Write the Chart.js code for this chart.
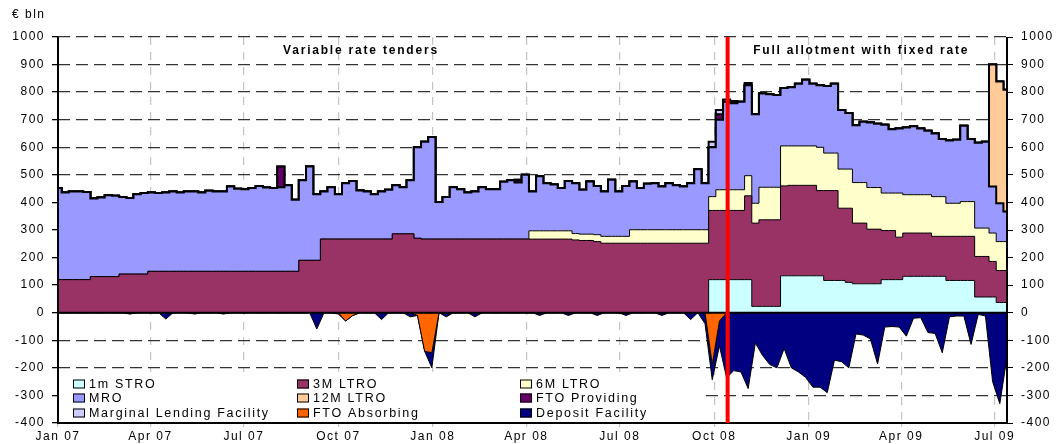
<!DOCTYPE html>
<html>
<head>
<meta charset="utf-8">
<title>Eurosystem liquidity operations</title>
<script src="https://cdn.jsdelivr.net/npm/chart.js@4.4.0/dist/chart.umd.min.js"></script>
<style>
  html, body { margin: 0; padding: 0; background: #fff; }
  canvas { display: block; }
</style>
</head>
<body>
<canvas id="chart" width="1057" height="444"></canvas>
<script>
// Days since 1 Jan 2007 (weekly grid)
const days = [0,7,14,21,28,35,42,49,56,63,
  70,77,84,91,98,105,112,119,126,133,
  140,147,154,161,168,175,182,189,196,203,
  210,217,224,231,238,245,252,259,266,273,
  280,287,294,301,308,315,322,329,336,343,
  350,357,364,371,378,385,392,399,406,413,
  420,427,434,441,448,455,462,469,476,483,
  490,497,504,511,518,525,532,539,546,553,
  560,567,574,581,588,595,602,609,616,623,
  630,637,644,651,658,665,672,679,686,693,
  700,707,714,721,728,735,742,749,756,763,
  770,777,784,791,798,805,812,819,826,833,
  840,847,854,861,868,875,882,889,896,903,
  910,917,924];

const tickDays = [0, 90, 181, 273, 365, 456, 547, 639, 731, 821, 912];
const tickLabels = ['Jan 07', 'Apr 07', 'Jul 07', 'Oct 07', 'Jan 08', 'Apr 08', 'Jul 08', 'Oct 08', 'Jan 09', 'Apr 09', 'Jul 09'];
const switchDay = 652; // 15 Oct 2008

// € bln
const stro = [0,0,0,0,0,0,0,0,0,0,
  0,0,0,0,0,0,0,0,0,0,
  0,0,0,0,0,0,0,0,0,0,
  0,0,0,0,0,0,0,0,0,0,
  0,0,0,0,0,0,0,0,0,0,
  0,0,0,0,0,0,0,0,0,0,
  0,0,0,0,0,0,0,0,0,0,
  0,0,0,0,0,0,0,0,0,0,
  0,0,0,0,0,0,0,0,0,0,
  0,120,120,120,120,120,120,23,23,23,
  23,134,134,134,134,134,134,117,117,117,
  110,105,105,105,105,120,120,120,132,132,
  132,132,132,132,117,117,117,117,57,57,
  57,37,37];

const ltro3m = [120,120,120,120,120,131,131,131,131,140,
  140,140,140,150,150,150,150,150,150,150,
  150,150,150,150,150,150,150,150,150,150,
  150,150,150,150,190,190,190,267,267,267,
  267,267,267,267,267,267,267,286,286,286,
  270,267,267,267,267,267,267,267,267,267,
  267,267,267,267,267,267,267,267,267,267,
  267,267,264,262,262,258,252,252,252,252,
  252,252,252,252,252,252,252,252,252,252,
  252,251,251,251,251,251,304,302,314,314,
  314,326,328,328,328,328,309,326,326,262,
  269,220,220,198,198,178,178,154,157,157,
  157,157,145,145,160,160,160,160,147,147,
  129,116,116];

const ltro6m = [0,0,0,0,0,0,0,0,0,0,
  0,0,0,0,0,0,0,0,0,0,
  0,0,0,0,0,0,0,0,0,0,
  0,0,0,0,0,0,0,0,0,0,
  0,0,0,0,0,0,0,0,0,0,
  0,0,0,0,0,0,0,0,0,0,
  0,0,0,0,0,0,30,30,30,30,
  30,30,23,23,23,25,25,25,25,25,
  49,49,49,49,49,49,49,49,49,49,
  49,50,75,75,75,75,73,72,118,118,
  118,145,143,143,143,143,157,136,136,142,
  142,147,147,151,151,136,136,160,139,139,
  139,139,144,144,120,120,126,126,103,103,
  103,105,105];

const mro = [332,316,320,320,318,283,287,295,293,280,
  276,290,294,286,284,286,290,286,290,290,
  286,292,290,290,308,300,298,302,310,304,
  302,305,312,260,290,340,240,173,188,163,
  203,211,176,173,163,173,179,176,169,194,
  330,353,370,135,153,188,181,169,173,188,
  181,181,208,213,205,233,143,198,173,168,
  155,181,183,161,191,177,163,205,163,183,
  175,151,167,169,157,169,161,157,169,219,
  169,179,254,319,314,319,328,323,340,337,
  335,210,213,225,240,225,225,243,251,214,
  203,208,221,236,231,248,231,234,244,248,
  240,232,229,209,228,230,275,227,309,313,
  169,139,109];

const ltro12m = [0,0,0,0,0,0,0,0,0,0,
  0,0,0,0,0,0,0,0,0,0,
  0,0,0,0,0,0,0,0,0,0,
  0,0,0,0,0,0,0,0,0,0,
  0,0,0,0,0,0,0,0,0,0,
  0,0,0,0,0,0,0,0,0,0,
  0,0,0,0,0,0,0,0,0,0,
  0,0,0,0,0,0,0,0,0,0,
  0,0,0,0,0,0,0,0,0,0,
  0,0,0,0,0,0,0,0,0,0,
  0,0,0,0,0,0,0,0,0,0,
  0,0,0,0,0,0,0,0,0,0,
  0,0,0,0,0,0,0,0,0,0,
  442,442,442];

const ftoProviding = [0,0,0,0,0,0,0,0,0,0,
  0,0,0,0,0,0,0,0,0,0,
  0,0,0,0,0,0,0,0,0,0,
  0,75,0,0,0,0,0,0,0,0,
  0,0,0,0,0,0,0,0,0,0,
  0,0,0,0,0,0,0,0,0,0,
  0,0,0,0,10,0,0,0,0,0,
  0,0,0,0,0,0,0,0,0,0,
  0,0,0,0,0,0,0,0,0,0,
  0,0,20,0,0,0,0,0,0,0,
  0,0,0,0,0,0,0,0,0,0,
  0,0,0,0,0,0,0,0,0,0,
  0,0,0,0,0,0,0,0,0,0,
  0,0,0];

const marginalLending = [0,0,0,0,0,0,0,0,0,0,
  0,0,0,0,0,0,0,0,0,0,
  0,0,0,0,0,0,0,0,0,0,
  0,0,0,0,0,0,0,0,0,0,
  0,0,0,0,0,0,0,0,0,0,
  0,0,0,0,0,0,0,0,0,0,
  0,0,0,0,0,0,0,0,0,0,
  0,0,0,0,0,0,0,0,0,0,
  0,0,0,0,0,0,0,0,0,0,
  0,20,15,8,8,0,8,0,0,0,
  0,0,0,0,0,0,0,0,0,0,
  0,0,0,0,0,0,0,0,0,0,
  0,0,0,0,0,0,0,0,0,0,
  0,0,0];

const ftoAbsorbing = [0,0,0,0,0,0,0,0,0,0,
  0,0,0,0,0,0,0,0,0,0,
  0,0,0,0,0,0,0,0,0,0,
  0,0,0,0,0,0,0,0,0,0,
  -30,-10,0,0,0,0,0,0,0,0,
  -10,-140,-145,0,0,0,0,0,0,0,
  0,0,0,0,0,0,0,0,0,0,
  0,0,0,0,0,0,0,0,0,0,
  0,0,0,0,0,0,0,0,0,0,
  0,-188,-30,0,0,0,0,0,0,0,
  0,0,0,0,0,0,0,0,0,0,
  0,0,0,0,0,0,0,0,0,0,
  0,0,0,0,0,0,0,0,0,0,
  0,0,0];

const depositFacility = [0,0,0,0,0,0,0,0,0,0,
  -5,0,0,0,0,-23,0,0,0,-5,
  0,0,0,-5,0,0,0,0,0,0,
  0,0,0,0,0,0,-59,0,0,-5,
  0,0,0,0,0,-25,0,0,0,-15,
  0,0,-55,0,-15,0,0,0,-15,0,
  0,0,0,0,0,0,0,-10,0,0,
  0,-10,0,0,0,-10,0,0,0,-10,
  0,0,0,0,-10,0,0,0,-25,0,
  -40,-55,-90,-236,-210,-215,-275,-110,-155,-188,
  -200,-130,-200,-215,-235,-270,-270,-290,-172,-178,
  -200,-77,-81,-95,-186,-52,-50,-52,-85,-20,
  -18,-72,-75,-145,-15,-12,-12,-115,-6,-12,
  -250,-330,-160];

const FONT = "'Liberation Sans', Arial, sans-serif";
Chart.defaults.font.family = FONT;
Chart.defaults.color = '#000';

// operations settle weekly, so the supply side is drawn as steps;
// the absorbing side is a daily series and stays a plain line
function area(label, values, color, stack, fill, width, stepped) {
  return {
    label: label,
    data: values.map((v, i) => ({ x: days[i], y: v })),
    backgroundColor: color,
    borderColor: '#000',
    borderWidth: width,
    fill: fill,
    stack: stack,
    stepped: stepped,
    tension: 0,
    pointRadius: 0
  };
}

const datasets = [
  area('1m STRO', stro, '#ccffff', 'pos', 'origin', 1, 'middle'),
  area('3M LTRO', ltro3m, '#993366', 'pos', '-1', 1, 'middle'),
  area('6M LTRO', ltro6m, '#ffffcc', 'pos', '-1', 1, 'middle'),
  area('MRO', mro, '#9999ff', 'pos', '-1', 2, 'middle'),
  area('12M LTRO', ltro12m, '#ffcc99', 'pos', '-1', 2, 'middle'),
  area('FTO Providing', ftoProviding, '#660066', 'pos', '-1', 2, 'middle'),
  area('Marginal Lending Facility', marginalLending, '#ccccff', 'pos', '-1', 2, 'middle'),
  area('FTO Absorbing', ftoAbsorbing, '#ff6600', 'neg', 'origin', 1, false),
  area('Deposit Facility', depositFacility, '#000080', 'neg', '-1', 1, false)
];

// legend order, three columns
const legendOrder = ['1m STRO', '3M LTRO', '6M LTRO',
  'MRO', '12M LTRO', 'FTO Providing',
  'Marginal Lending Facility', 'FTO Absorbing', 'Deposit Facility'];

const overlay = {
  id: 'overlay',
  beforeLayout(chart) { chart.ctx.letterSpacing = '1.5px'; },
  beforeDraw(chart) { chart.ctx.letterSpacing = '1.5px'; },
  afterDatasetsDraw(chart) {
    const ctx = chart.ctx;
    const a = chart.chartArea;
    const x = chart.scales.x;
    const y = chart.scales.y;
    ctx.save();

    // legend box
    ctx.fillStyle = '#fff';
    ctx.fillRect(a.left + 1, 372, 645, a.bottom - 373);
    const colX = [73, 297, 520];
    const rowY = [384, 398, 413];
    ctx.font = '12.5px ' + FONT;
    ctx.letterSpacing = '1.7px';
    ctx.textBaseline = 'middle';
    ctx.textAlign = 'left';
    legendOrder.forEach((name, k) => {
      const ds = datasets.find(d => d.label === name);
      const bx = colX[k % 3];
      const by = rowY[Math.floor(k / 3)];
      ctx.fillStyle = ds.backgroundColor;
      ctx.fillRect(bx, by - 4.5, 12, 9);
      ctx.strokeStyle = '#000';
      ctx.lineWidth = 1;
      ctx.strokeRect(bx + 0.5, by - 4, 11, 8);
      ctx.fillStyle = '#000';
      ctx.fillText(name, bx + 16, by + 1);
    });

    // zero line and frame
    const y0 = y.getPixelForValue(0);
    ctx.strokeStyle = '#000';
    ctx.lineWidth = 2;
    ctx.beginPath();
    ctx.moveTo(a.left, y0);
    ctx.lineTo(a.right, y0);
    ctx.stroke();
    ctx.beginPath();
    ctx.moveTo(a.left, a.top);
    ctx.lineTo(a.left, a.bottom);
    ctx.lineTo(a.right, a.bottom);
    ctx.lineTo(a.right, a.top);
    ctx.stroke();

    // switch to full allotment
    const xr = x.getPixelForValue(switchDay);
    ctx.strokeStyle = '#ff0000';
    ctx.lineWidth = 4;
    ctx.beginPath();
    ctx.moveTo(xr, a.top);
    ctx.lineTo(xr, a.bottom);
    ctx.stroke();

    // regime labels
    ctx.fillStyle = '#000';
    ctx.font = 'bold 12px ' + FONT;
    ctx.letterSpacing = '1.8px';
    ctx.textAlign = 'center';
    ctx.fillText('Variable rate tenders', x.getPixelForValue(295), y.getPixelForValue(950));
    ctx.fillText('Full allotment with fixed rate', x.getPixelForValue(782), y.getPixelForValue(950));

    // unit
    ctx.font = '12px ' + FONT;
    ctx.letterSpacing = '1.5px';
    ctx.textAlign = 'left';
    ctx.fillText('€ bln', 12, 15);
    ctx.restore();
  }
};

const plainNumber = v => String(v);

new Chart(document.getElementById('chart'), {
  type: 'line',
  data: { datasets: datasets },
  options: {
    responsive: false,
    animation: false,
    events: [],
    layout: { padding: { top: 37, left: 0, right: 0, bottom: 0 } },
    plugins: { legend: { display: false }, tooltip: { enabled: false } },
    scales: {
      x: {
        type: 'linear',
        min: 0,
        max: 924,
        afterBuildTicks: s => { s.ticks = tickDays.map(v => ({ value: v })); },
        afterFit: s => { s.height = 21; },
        ticks: {
          callback: v => tickLabels[tickDays.indexOf(v)],
          font: { size: 12 },
          padding: 2,
          maxRotation: 0,
          autoSkip: false
        },
        grid: { color: '#c4c4c4', lineWidth: 1.2, tickLength: 4, tickColor: '#c4c4c4' },
        border: { display: false, dash: [8, 7] }
      },
      y: {
        stacked: true,
        min: -400,
        max: 1000,
        position: 'left',
        afterFit: s => { s.width = 58; },
        ticks: { stepSize: 100, font: { size: 12 }, padding: 7, callback: plainNumber },
        grid: { color: '#333', lineWidth: 1.3, tickLength: 6, tickColor: '#000' },
        border: { display: false, dash: [12, 6] }
      },
      y2: {
        min: -400,
        max: 1000,
        position: 'right',
        afterFit: s => { s.width = 50; },
        ticks: { stepSize: 100, font: { size: 12 }, padding: 8, callback: plainNumber },
        grid: { drawOnChartArea: false, tickLength: 6, tickColor: '#000' },
        border: { display: false }
      }
    }
  },
  plugins: [overlay]
});
</script>
</body>
</html>
